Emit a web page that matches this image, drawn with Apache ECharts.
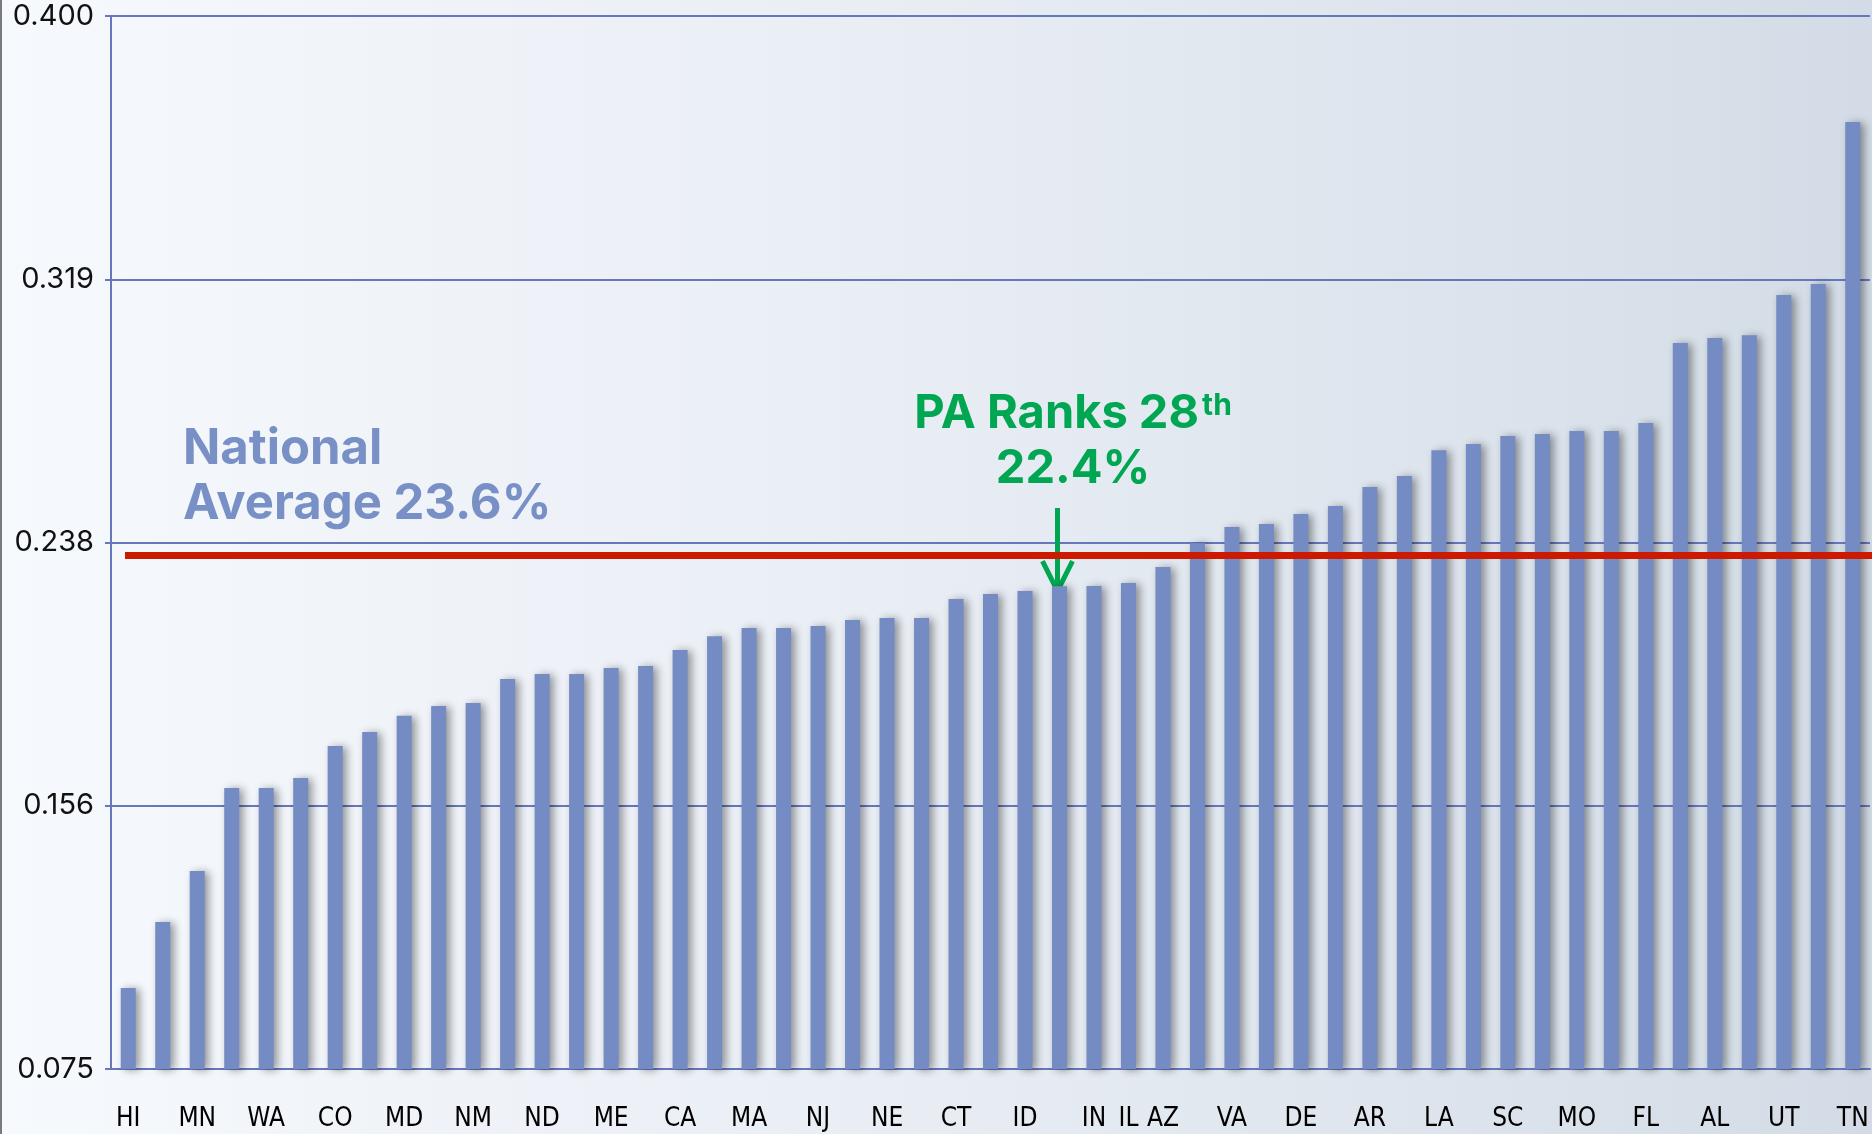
<!DOCTYPE html>
<html>
<head>
<meta charset="utf-8">
<title>PA Ranks 28th</title>
<script src="https://cdn.jsdelivr.net/npm/echarts@6/dist/echarts.min.js"></script>
<style>
  html, body { margin: 0; padding: 0; }
  #chart { width: 1872px; height: 1134px; }
</style>
</head>
<body>
<div id="chart"></div>
<script>
// states, sorted low to high
var states = [
  "HI", "VT", "MN", "NY", "WA", "OR", "CO", "NH", "MD", "RI",
  "NM", "DC", "ND", "MT", "ME", "WI", "CA", "AK", "MA", "IA",
  "NJ", "MI", "NE", "SD", "CT", "NV", "ID", "PA", "IN", "IL",
  "AZ", "OH", "VA", "KS", "DE", "WY", "AR", "GA", "LA", "NC",
  "SC", "TX", "MO", "KY", "FL", "OK", "AL", "WV", "UT", "MS",
  "TN"
];
var values = [
  0.1000, 0.1204, 0.1361, 0.1617, 0.1617, 0.1648, 0.1747, 0.1790, 0.1840, 0.1870,
  0.1880, 0.1954, 0.1969, 0.1969, 0.1988, 0.1994, 0.2043, 0.2086, 0.2111, 0.2111,
  0.2117, 0.2136, 0.2142, 0.2142, 0.2201, 0.2216, 0.2225, 0.2240, 0.2241, 0.2250,
  0.2299, 0.2373, 0.2423, 0.2432, 0.2463, 0.2488, 0.2546, 0.2580, 0.2660, 0.2679,
  0.2704, 0.2710, 0.2719, 0.2719, 0.2744, 0.2991, 0.3006, 0.3015, 0.3139, 0.3173,
  0.3673
];
var yTicks = ["0.075", "0.156", "0.238", "0.319", "0.400"];
var yMin = 0.075;
var yMax = 0.4;
var yStep = 0.08125;
var avgLine = 0.2335;
var paIndex = 27;

var blue = "#6677bb";
var barColor = "#748bc3";
var green = "#00a651";

var myChart = echarts.init(document.getElementById("chart"));
myChart.setOption({
  animation: false,
  backgroundColor: {
    type: "linear", x: 0, y: 0, x2: 1, y2: 0,
    colorStops: [
      { offset: 0, color: "#f6f9fd" },
      { offset: 0.5, color: "#e8edf4" },
      { offset: 1, color: "#d3dce6" }
    ]
  },
  tooltip: { trigger: "axis", axisPointer: { type: "shadow" } },
  grid: {
    left: 111,
    right: 2,
    top: 16,
    bottom: 65,
    outerBoundsMode: "none"
  },
  xAxis: {
    type: "category",
    data: states,
    axisLine: { lineStyle: { color: blue, width: 2 } },
    axisTick: { interval: 0, length: 6, lineStyle: { color: blue, width: 2 } },
    axisLabel: {
      // every second state, plus IL
      interval: function (index) {
        return index % 2 === 0 || index === 29;
      },
      margin: 37,
      color: "#000",
      fontFamily: "'DejaVu Sans Condensed', 'Liberation Sans Narrow', sans-serif",
      fontSize: 26
    }
  },
  yAxis: {
    type: "value",
    min: yMin,
    max: yMax,
    interval: yStep,
    axisLine: { show: true, lineStyle: { color: blue, width: 2 } },
    axisTick: { show: true, length: 6, lineStyle: { color: blue, width: 2 } },
    splitLine: { lineStyle: { color: blue, width: 2 } },
    axisLabel: {
      margin: 17,
      color: "#111",
      fontFamily: "Inter",
      fontSize: 29,
      formatter: function (v) {
        return yTicks[Math.round((v - yMin) / yStep)];
      }
    }
  },
  series: [
    {
      name: "Share",
      type: "bar",
      data: values,
      barWidth: 15,
      itemStyle: {
        color: barColor,
        shadowBlur: 9,
        shadowColor: "rgba(0, 0, 0, 0.4)",
        shadowOffsetX: 4,
        shadowOffsetY: 1
      },
      markLine: {
        silent: true,
        symbol: "none",
        label: { show: false },
        lineStyle: { color: "#cc1a00", width: 7, type: "solid" },
        data: [
          [
            { x: 125, yAxis: avgLine },
            { x: 1872, yAxis: avgLine }
          ]
        ]
      }
    }
  ]
});

// annotations, arrow placed from the PA bar
var pa = myChart.convertToPixel({ seriesIndex: 0 }, [paIndex, values[paIndex]]);
var ax = pa[0] - 2;
myChart.setOption({
  graphic: [
    {
      type: "rect",
      shape: { x: 0, y: 0, width: 2, height: 1134 },
      style: { fill: "#7a7a7a" }
    },
    {
      type: "text",
      x: 183,
      y: 422,
      style: {
        text: "National\nAverage 23.6%",
        fill: "#7890c5",
        font: "bold 49px Inter",
        lineHeight: 55,
        verticalAlign: "top"
      }
    },
    {
      type: "text",
      x: 1073,
      y: 386,
      style: {
        text: "PA Ranks 28{sup|th}\n22.4%",
        fill: green,
        fontWeight: "bold",
        fontFamily: "Inter",
        fontSize: 47,
        lineHeight: 55,
        align: "center",
        verticalAlign: "top",
        rich: {
          sup: {
            fill: green,
            fontWeight: "bold",
            fontFamily: "Inter",
            fontSize: 30,
            lineHeight: 32,
            verticalAlign: "top",
            padding: [5, 0, 0, 3]
          }
        }
      }
    },
    {
      type: "line",
      shape: { x1: ax, y1: 508, x2: ax, y2: pa[1] + 4 },
      style: { stroke: green, lineWidth: 5 }
    },
    {
      type: "polyline",
      shape: { points: [[ax - 15, pa[1] - 25], [ax, pa[1] + 5], [ax + 15, pa[1] - 25]] },
      style: { stroke: green, lineWidth: 5, fill: null }
    }
  ]
});
</script>
</body>
</html>
